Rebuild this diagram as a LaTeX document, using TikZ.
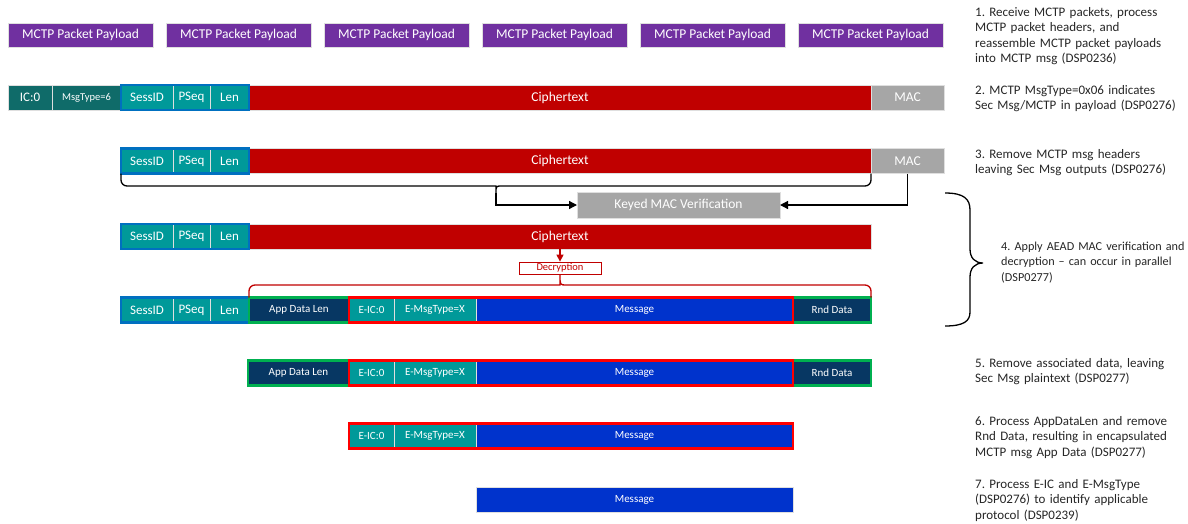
\documentclass[tikz,border=0pt]{standalone}
\usepackage{fontspec}
\setmainfont{Carlito}
\usetikzlibrary{positioning,arrows.meta}
\frenchspacing

\definecolor{mctppurple}{HTML}{7030A0}
\definecolor{hdrteal}{HTML}{0F6B69}
\definecolor{secteal}{HTML}{009999}
\definecolor{secblue}{HTML}{0070C0}
\definecolor{cipherred}{HTML}{C00000}
\definecolor{macgray}{HTML}{A6A6A6}
\definecolor{adnavy}{HTML}{073763}
\definecolor{msgblue}{HTML}{0033CC}
\definecolor{ptgreen}{HTML}{00B050}
\definecolor{ptred}{HTML}{FF0000}
\definecolor{notegray}{HTML}{262626}

\tikzset{
  fld/.style={inner sep=0pt, outer sep=0pt, minimum height=25pt, text=white,
    draw=white!75!gray, line width=0.4pt, font=\fontsize{13}{15}\selectfont},
  smallfld/.style={fld, font=\fontsize{11}{12}\selectfont},
  paybox/.style={fld, fill=mctppurple, minimum width=145pt, minimum height=24pt,
    font=\fontsize{13.5}{15}\selectfont},
  hdrfld/.style={fld, fill=hdrteal},
  secfld/.style={fld, fill=secteal},
  ctfld/.style={fld, fill=cipherred, font=\fontsize{13.5}{15}\selectfont},
  macfld/.style={fld, fill=macgray, font=\fontsize{13.5}{15}\selectfont},
  navyfld/.style={smallfld, fill=adnavy},
  esecfld/.style={smallfld, fill=secteal},
  msgfld/.style={smallfld, fill=msgblue},
  sessbox/.style={draw=secblue, line width=2.5pt},
  plainbox/.style={draw=ptgreen, line width=2.5pt},
  encbox/.style={draw=ptred, line width=2.5pt},
  brc/.style={draw=black, line width=1.3pt},
  redbrc/.style={draw=cipherred, line width=1.3pt},
  arr/.style={brc, -{Triangle[length=8pt,width=8pt]}},
  redarr/.style={redbrc, -{Triangle[length=7pt,width=7pt]}},
  stepnote/.style={anchor=base west, inner sep=0pt, text width=215pt, align=left,
    text=notegray, font=\fontsize{13}{15.5}\selectfont}
}

\begin{document}
\begin{tikzpicture}[x=1pt, y=-1pt]
  \useasboundingbox (0,0) rectangle (1188,523);

  % 1. packet payloads
  \foreach \i in {0,...,5}
    \node[paybox] (pay\i) at (80.5+158*\i, 35) {MCTP Packet Payload};

  % 2. MCTP msg
  \node[hdrfld, minimum width=44pt, anchor=west] (ic2) at (8,97.5) {IC:0};
  \node[hdrfld, minimum width=69pt, right=0pt of ic2, font=\fontsize{10.5}{12}\selectfont] (mt2) {MsgType=6};
  \node[secfld, minimum width=52pt, right=0pt of mt2] (sid2) {SessID};
  \node[secfld, minimum width=37pt, right=0pt of sid2] (pseq2) {PSeq};
  \node[secfld, minimum width=39pt, right=0pt of pseq2] (len2) {Len};
  \node[ctfld, minimum width=622pt, right=0pt of len2] (ct2) {Ciphertext};
  \node[macfld, minimum width=73pt, right=0pt of ct2] (mac2) {MAC};
  \draw[sessbox] (sid2.north west) rectangle (len2.south east);

  % 3. Sec Msg
  \node[secfld, minimum width=52pt, anchor=west] (sid3) at (121,161) {SessID};
  \node[secfld, minimum width=37pt, right=0pt of sid3] (pseq3) {PSeq};
  \node[secfld, minimum width=39pt, right=0pt of pseq3] (len3) {Len};
  \node[ctfld, minimum width=622pt, right=0pt of len3] (ct3) {Ciphertext};
  \node[macfld, minimum width=73pt, right=0pt of ct3] (mac3) {MAC};
  \draw[sessbox] (sid3.north west) rectangle (len3.south east);

  \node[macfld, minimum width=203pt, minimum height=26pt] (kmac) at (678.5,205) {Keyed MAC Verification};
  \coordinate (btip) at (496,193);
  \draw[brc] (sid3.south west) [rounded corners=6pt] |- (490,186) [sharp corners]
    .. controls (496,186) .. (btip) .. controls (496,186) .. (502,186)
    [rounded corners=6pt] -| (ct3.south east);
  \draw[arr] (btip) |- (kmac.west);
  \draw[arr] (mac3.south) |- (kmac.east);

  % 4. decryption
  \node[secfld, minimum width=52pt, anchor=west] (sid4) at (121,236.5) {SessID};
  \node[secfld, minimum width=37pt, right=0pt of sid4] (pseq4) {PSeq};
  \node[secfld, minimum width=39pt, right=0pt of pseq4] (len4) {Len};
  \node[ctfld, minimum width=622pt, right=0pt of len4] (ct4) {Ciphertext};
  \draw[sessbox] (sid4.north west) rectangle (len4.south east);

  \node[draw=cipherred, line width=0.8pt, inner sep=0pt, minimum width=82pt, minimum height=12pt,
    text=cipherred, font=\fontsize{10.5}{12}\selectfont] (dec) at (560,268) {Decryption};
  \draw[redarr] (ct4.south) -- (dec.north);

  \node[secfld, minimum width=52pt, anchor=west] (sid5) at (121,310) {SessID};
  \node[secfld, minimum width=37pt, right=0pt of sid5] (pseq5) {PSeq};
  \node[secfld, minimum width=39pt, right=0pt of pseq5] (len5) {Len};
  \node[navyfld, minimum width=100pt, right=0pt of len5] (adl5) {App Data Len};
  \node[esecfld, minimum width=45pt, right=0pt of adl5] (eic5) {E-IC:0};
  \node[esecfld, minimum width=82pt, right=0pt of eic5] (emt5) {E-MsgType=X};
  \node[msgfld, minimum width=317pt, right=0pt of emt5] (msg5) {Message};
  \node[navyfld, minimum width=78pt, right=0pt of msg5] (rnd5) {Rnd Data};
  \draw[sessbox] (sid5.north west) rectangle (len5.south east);
  \draw[plainbox] (adl5.north west) rectangle (rnd5.south east);
  \draw[encbox] (eic5.north west) rectangle (msg5.south east);

  \draw[redbrc] (adl5.north west) [rounded corners=6pt] |- (554,285) [sharp corners]
    .. controls (560,285) .. (dec.south) .. controls (560,285) .. (566,285)
    [rounded corners=6pt] -| (rnd5.north east);

  % right brace for step 4
  \draw[brc] (945,193) .. controls (964,193) and (970,199) .. (970,210) -- (970,249)
    .. controls (970,258) and (975,263) .. (983,263)
    .. controls (975,263) and (970,268) .. (970,277) -- (970,312)
    .. controls (970,321) and (964,326) .. (945,326);

  % 5. plaintext
  \node[navyfld, minimum width=101pt, anchor=west] (adl6) at (248,373) {App Data Len};
  \node[esecfld, minimum width=45pt, right=0pt of adl6] (eic6) {E-IC:0};
  \node[esecfld, minimum width=82pt, right=0pt of eic6] (emt6) {E-MsgType=X};
  \node[msgfld, minimum width=317pt, right=0pt of emt6] (msg6) {Message};
  \node[navyfld, minimum width=78pt, right=0pt of msg6] (rnd6) {Rnd Data};
  \draw[plainbox] (adl6.north west) rectangle (rnd6.south east);
  \draw[encbox] (eic6.north west) rectangle (msg6.south east);

  % 6. encapsulated app data
  \node[esecfld, minimum width=45pt, anchor=west] (eic7) at (349,436) {E-IC:0};
  \node[esecfld, minimum width=82pt, right=0pt of eic7] (emt7) {E-MsgType=X};
  \node[msgfld, minimum width=317pt, right=0pt of emt7] (msg7) {Message};
  \draw[encbox] (eic7.north west) rectangle (msg7.south east);

  % 7. message
  \node[msgfld, minimum width=317pt, anchor=west] (msg8) at (476,499.5) {Message};

  % step notes
  \node[stepnote] (note1) at (975,16) {1. Receive MCTP packets, process\\MCTP packet headers, and\\reassemble MCTP packet payloads\\into MCTP msg (DSP0236)};
  \node[stepnote] (note2) at (975,94) {2. MCTP MsgType=0x06 indicates\\Sec Msg/MCTP in payload (DSP0276)};
  \node[stepnote] (note3) at (975,158) {3. Remove MCTP msg headers\\leaving Sec Msg outputs (DSP0276)};
  \node[stepnote, text width=186pt, font=\fontsize{12.2}{15.5}\selectfont] (note4) at (1001,250) {4. Apply AEAD MAC verification and\\decryption -- can occur in parallel\\(DSP0277)};
  \node[stepnote] (note5) at (975,367) {5. Remove associated data, leaving\\Sec Msg plaintext (DSP0277)};
  \node[stepnote] (note6) at (975,425) {6. Process AppDataLen and remove\\Rnd Data, resulting in encapsulated\\MCTP msg App Data (DSP0277)};
  \node[stepnote] (note7) at (975,488) {7. Process E-IC and E-MsgType\\(DSP0276) to identify applicable\\protocol (DSP0239)};
\end{tikzpicture}
\end{document}
